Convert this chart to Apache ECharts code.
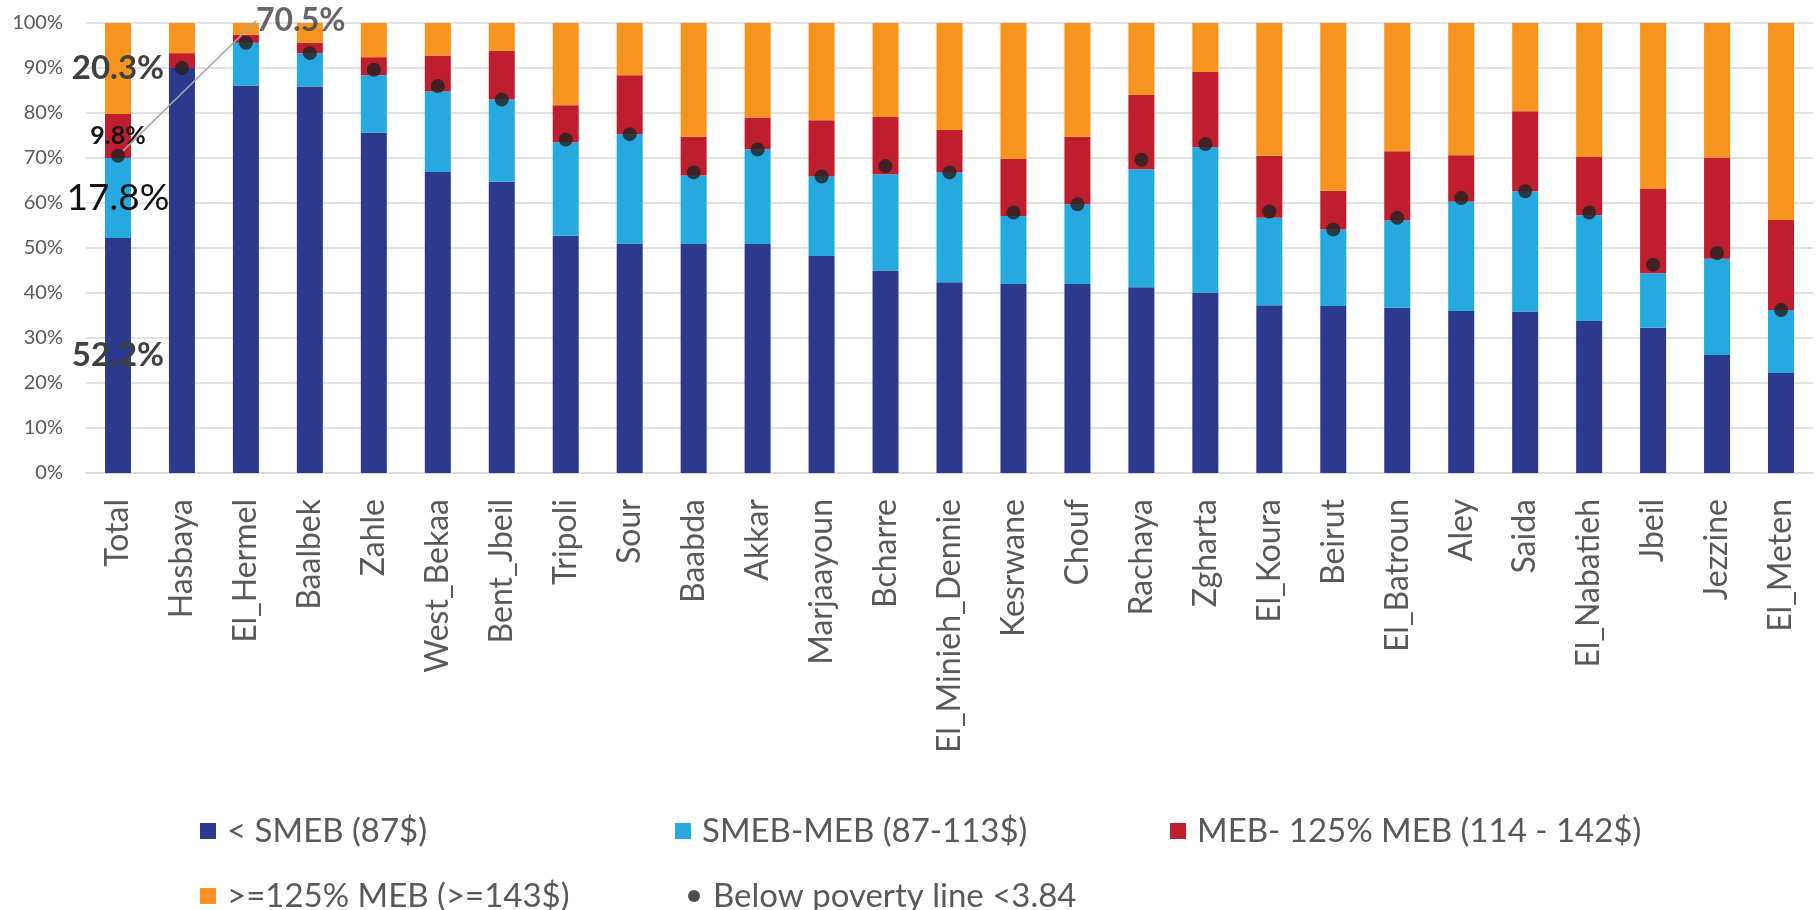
<!DOCTYPE html>
<html>
<head>
<meta charset="utf-8">
<title>Expenditure categories by district</title>
<script src="https://cdn.jsdelivr.net/npm/echarts@6/dist/echarts.min.js"></script>
<style>
  html, body { margin: 0; padding: 0; background: #ffffff; }
  #chart { width: 1820px; height: 910px; }
</style>
</head>
<body>
<div id="chart"></div>
<script>
// Districts, in the order shown on the x axis
const categories = [
  'Total', 'Hasbaya', 'El_Hermel', 'Baalbek', 'Zahle', 'West_Bekaa', 'Bent_Jbeil',
  'Tripoli', 'Sour', 'Baabda', 'Akkar', 'Marjaayoun', 'Bcharre', 'El_Minieh_Dennie',
  'Kesrwane', 'Chouf', 'Rachaya', 'Zgharta', 'El_Koura', 'Beirut', 'El_Batroun',
  'Aley', 'Saida', 'El_Nabatieh', 'Jbeil', 'Jezzine', 'El_Meten'
];

// Share of households (%) in each expenditure band
const belowSMEB = [52.2, 90.0, 86.1, 85.9, 75.6, 66.9, 64.7, 52.7, 51.0, 50.9, 50.9, 48.2, 45.0, 42.4,
  42.0, 42.0, 41.3, 40.1, 37.3, 37.1, 36.7, 36.0, 35.9, 33.8, 32.3, 26.2, 22.2];
const smebToMeb = [17.8, 0.0, 9.5, 7.4, 12.8, 17.9, 18.3, 20.8, 24.3, 15.2, 21.0, 17.7, 21.4, 24.4,
  15.1, 17.7, 26.2, 32.3, 19.4, 17.0, 19.4, 24.3, 26.7, 23.5, 12.1, 21.4, 14.0];
const mebTo125 = [9.8, 3.3, 1.8, 2.3, 4.0, 8.0, 10.8, 8.2, 13.1, 8.6, 7.1, 12.5, 12.7, 9.4,
  12.7, 15.0, 16.5, 16.7, 13.8, 8.6, 15.4, 10.3, 17.8, 12.9, 18.7, 22.5, 20.0];
const above125 = [20.3, 6.7, 2.6, 4.4, 7.6, 7.2, 6.2, 18.3, 11.6, 25.3, 21.0, 21.6, 20.9, 23.8,
  30.2, 25.3, 16.0, 10.9, 29.5, 37.3, 28.5, 29.4, 19.6, 29.8, 36.9, 29.9, 43.8];

// Share of households below the poverty line (<3.84)
const povertyLine = [70.5, 90.0, 95.6, 93.3, 89.6, 86.0, 83.0, 74.1, 75.3, 66.8, 71.9, 65.9, 68.2, 66.8,
  57.9, 59.7, 69.6, 73.1, 58.1, 54.1, 56.7, 61.1, 62.6, 57.9, 46.3, 48.9, 36.2];

// Series names and y-axis tick labels
const seriesNames = ['< SMEB (87$)', 'SMEB-MEB (87-113$)', 'MEB- 125% MEB (114 - 142$)',
  '>=125% MEB (>=143$)', 'Below poverty line <3.84'];
const yTicks = ['0%', '10%', '20%', '30%', '40%', '50%', '60%', '70%', '80%', '90%', '100%'];

const colors = ['#2b3a8c', '#26a9e0', '#be1e2d', '#f79420', '#222222'];
const FONT = 'Lato, "Open Sans", sans-serif';
const pct = v => v.toFixed(1) + '%';

// Only the "Total" column carries value labels
const labelStyles = [
  { fontSize: 33, fontWeight: 'bold', color: '#404040' },
  { fontSize: 37, fontWeight: 'normal', color: '#111111' },
  { fontSize: 25, fontWeight: 'bold', color: '#111111' },
  { fontSize: 33, fontWeight: 'bold', color: '#404040' }
];

function barData(values, idx) {
  return values.map((v, i) => i === 0
    ? { value: v, label: Object.assign({ show: true, position: 'inside', fontFamily: FONT,
        formatter: p => pct(p.value) }, labelStyles[idx]) }
    : v);
}

const bands = [belowSMEB, smebToMeb, mebTo125, above125];
const barSeries = bands.map((vals, idx) => ({
  name: seriesNames[idx],
  type: 'bar',
  stack: 'bands',
  barWidth: 26,
  itemStyle: { color: colors[idx] },
  data: barData(vals, idx),
  z: 2
}));

const scatterSeries = {
  name: seriesNames[4],
  type: 'scatter',
  symbol: 'circle',
  symbolSize: 14,
  itemStyle: { color: colors[4] },
  z: 5,
  data: povertyLine.map((v, i) => i === 0
    ? { value: v,
        label: { show: true, formatter: p => pct(p.value), fontFamily: FONT, fontSize: 32,
                 fontWeight: 'bold', color: '#404040' },
        labelLine: { show: true, lineStyle: { color: '#a6a6a6', width: 1.5 } } }
    : v),
  // The total's callout sits above the chart with a bent leader line
  labelLayout: function (params) {
    if (params.dataIndex !== 0) return {};
    const r = params.rect;
    const cx = r.x + r.width / 2;
    const cy = r.y + r.height / 2;
    return {
      x: cx + 138,
      y: cy - 135,
      align: 'left',
      verticalAlign: 'middle',
      labelLinePoints: [[cx, cy], [cx + 115, cy - 137], [cx + 130, cy - 137]]
    };
  }
};

// One legend block per entry so the columns line up
const legendSlots = [
  { left: 200, top: 814 }, { left: 675, top: 814 }, { left: 1170, top: 814 },
  { left: 200, top: 879 }, { left: 688, top: 879 }
];
const legends = seriesNames.map((name, i) => ({
  data: [name],
  left: legendSlots[i].left,
  top: legendSlots[i].top,
  padding: 0,
  itemWidth: i === 4 ? 12 : 16,
  itemHeight: i === 4 ? 12 : 16,
  icon: i === 4 ? 'circle' : 'rect',
  selectedMode: false,
  textStyle: { fontFamily: FONT, fontSize: 33, color: '#595959', lineHeight: 34,
               padding: [0, 0, 0, i === 4 ? 8 : 6] }
}));

const chart = echarts.init(document.getElementById('chart'));
chart.setOption({
  animation: false,
  backgroundColor: '#ffffff',
  color: colors,
  grid: { left: 86, right: 7, top: 23, bottom: 437, containLabel: false },
  legend: legends,
  xAxis: {
    type: 'category',
    data: categories,
    axisLine: { show: true, lineStyle: { color: '#d9d9d9', width: 1.5 } },
    axisTick: { show: false },
    axisLabel: { rotate: 90, margin: 26, interval: 0, fontFamily: FONT, fontSize: 32, color: '#595959' }
  },
  yAxis: {
    type: 'value',
    min: 0,
    max: 100,
    interval: 10,
    axisLine: { show: false },
    axisTick: { show: false },
    splitLine: { lineStyle: { color: '#d9d9d9', width: 1.5 } },
    axisLabel: {
      margin: 23, fontFamily: FONT, fontSize: 20, color: '#595959',
      formatter: v => yTicks[Math.round(v / 10)]
    }
  },
  series: barSeries.concat([scatterSeries])
});
</script>
</body>
</html>
